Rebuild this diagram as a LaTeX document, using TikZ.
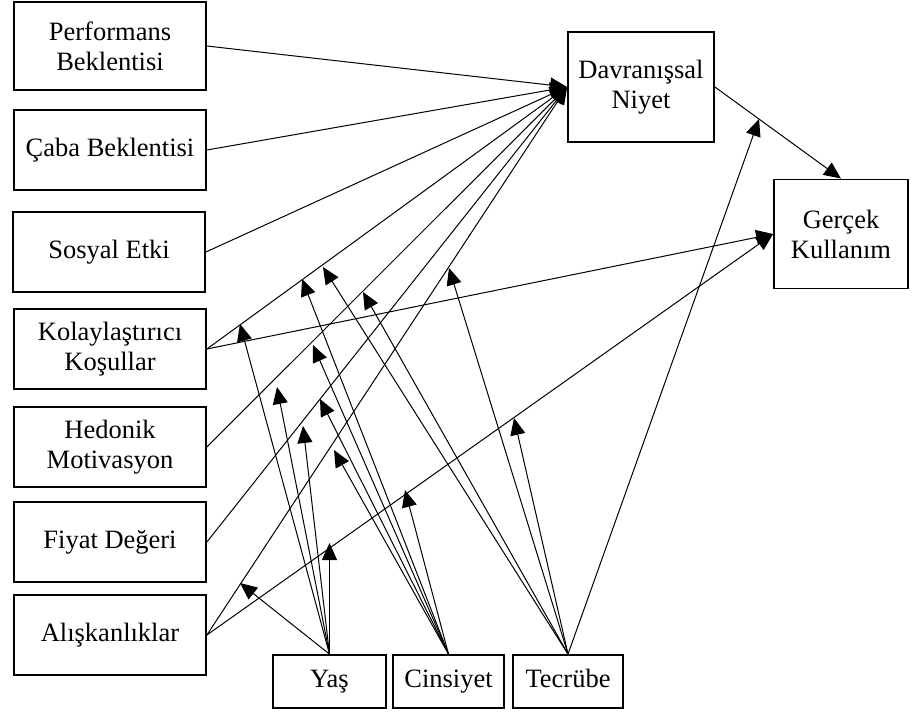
\documentclass[tikz,border=0pt]{standalone}
\usepackage{fontspec}
\setmainfont{Liberation Serif}
\usetikzlibrary{arrows.meta}
\begin{document}
\begin{tikzpicture}[x=1pt,y=-1pt,
  box/.style={draw, line width=1.8pt, align=center, inner sep=0pt,
    font=\fontsize{26.5}{30}\selectfont},
  one/.style={text height=18pt, text depth=6pt},
  lbox/.style={box, minimum width=192, minimum height=80},
  con/.style={line width=1pt, -{Triangle[length=17pt,width=15pt]}}]
\useasboundingbox (0,0) rectangle (915,715);
% left constructs
\node[lbox, minimum height=88] (pe) at (110,46) {Performans\\Beklentisi};
\node[lbox, one] (cb) at (110,150) {Çaba Beklentisi};
\node[lbox, one] (se) at (109,252) {Sosyal Etki};
\node[lbox] (kk) at (110,349) {Kolaylaştırıcı\\Koşullar};
\node[lbox] (hm) at (110,447) {Hedonik\\Motivasyon};
\node[lbox, one] (fd) at (110,542) {Fiyat Değeri};
\node[lbox, one] (al) at (110,635) {Alışkanlıklar};
% outcomes
\node[box, minimum width=146, minimum height=110] (dn) at (641,87) {Davranışsal\\Niyet};
\node[box, minimum width=134, minimum height=109] (gk) at (841,234) {Gerçek\\Kullanım};
% moderators
\node[box, one, minimum width=113, minimum height=53] (yas) at (329.5,681.5) {Yaş};
\node[box, one, minimum width=111, minimum height=53] (cin) at (448.5,681.5) {Cinsiyet};
\node[box, one, minimum width=110, minimum height=53] (tec) at (568,681.5) {Tecrübe};
% main paths
\draw[con] (pe.east) -- (dn.west);
\draw[con] (cb.east) -- (dn.west);
\draw[con] (se.east) -- (dn.west);
\draw[con] (kk.east) -- (dn.west);
\draw[con] (hm.east) -- (dn.west);
\draw[con] (fd.east) -- (dn.west);
\draw[con] (al.east) -- (dn.west);
\draw[con] (kk.east) -- (gk.west);
\draw[con] (al.east) -- (gk.west);
\draw[con] (dn.east) -- (gk.north);
% moderator targets
\coordinate (y1) at (240,324);
\coordinate (y2) at (277,387);
\coordinate (y3) at (303,426);
\coordinate (y4) at (329.5,543);
\coordinate (y5) at (240,583);
\coordinate (c1) at (302,279);
\coordinate (c2) at (313,345);
\coordinate (c3) at (320,399);
\coordinate (c4) at (334,450);
\coordinate (c5) at (405,490);
\coordinate (t1) at (323,267);
\coordinate (t2) at (363,292);
\coordinate (t3) at (449,268);
\coordinate (t4) at (514,418);
\path (dn.east) -- (gk.north) coordinate[pos=0.35] (t5);
% moderator arrows
\foreach \p in {y1,y2,y3,y4,y5} \draw[con] (yas.north) -- (\p);
\foreach \p in {c1,c2,c3,c4,c5} \draw[con] (cin.north) -- (\p);
\foreach \p in {t1,t2,t3,t4,t5} \draw[con] (tec.north) -- (\p);
\end{tikzpicture}
\end{document}
